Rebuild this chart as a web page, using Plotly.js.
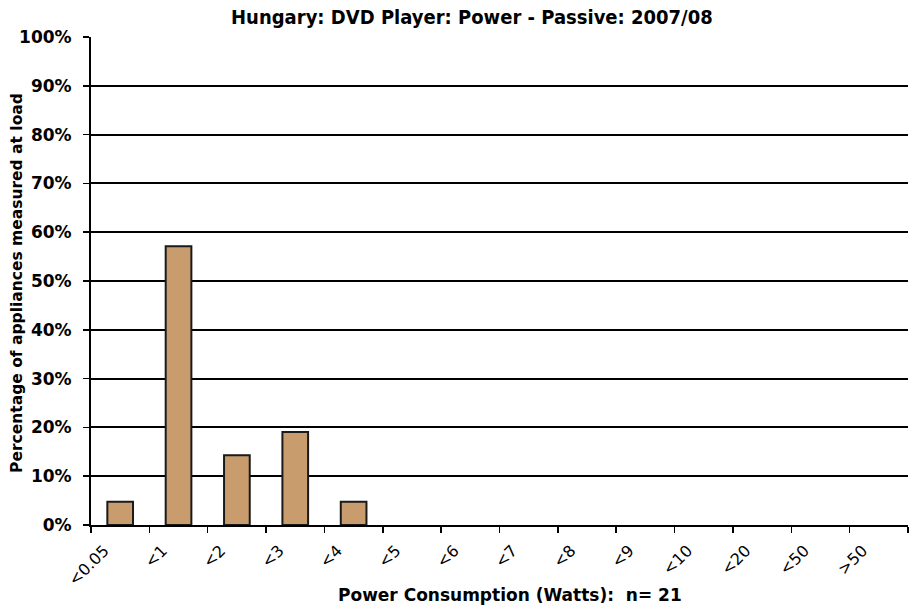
<!DOCTYPE html>
<html>
<head>
<meta charset="utf-8">
<script src="https://cdn.plot.ly/plotly-3.0.1.min.js"></script>
<style>html,body{margin:0;padding:0;background:#fff;}</style>
</head>
<body>
<div id="chart" style="width:911px;height:610px;"></div>
<script>
var categories = ["<0.05", "<1", "<2", "<3", "<4", "<5", "<6", "<7", "<8", "<9", "<10", "<20", "<50", ">50"];
var percentages = [4.76, 57.14, 14.29, 19.05, 4.76, 0, 0, 0, 0, 0, 0, 0, 0, 0];
var yTickVals = [0, 10, 20, 30, 40, 50, 60, 70, 80, 90, 100];
var yTickText = ["0%", "10%", "20%", "30%", "40%", "50%", "60%", "70%", "80%", "90%", "100%"];

var outlineWidths = percentages.map(function (v) { return v > 0 ? 2 : 0; });

var trace = {
  type: "bar",
  x: categories,
  y: percentages,
  marker: {
    color: "#c99c6e",
    line: {color: "#1a1a1a", width: outlineWidths}
  },
  hoverinfo: "x+y"
};

var boldFont = "DejaVu Sans, Verdana, sans-serif";

var layout = {
  width: 911,
  height: 610,
  margin: {l: 91, r: 3, t: 37, b: 85},
  paper_bgcolor: "#ffffff",
  plot_bgcolor: "#ffffff",
  bargap: 0.56,
  showlegend: false,
  title: {
    text: "Hungary: DVD Player: Power - Passive: 2007/08",
    font: {family: "DejaVu Sans Condensed, Arial Narrow, sans-serif", size: 20, color: "#000", weight: "bold"},
    x: 0.518, xanchor: "center", y: 0.972, yanchor: "middle"
  },
  xaxis: {
    type: "category",
    tickangle: -45,
    tickfont: {family: "DejaVu Sans, Arial, sans-serif", size: 16, color: "#000"},
    ticks: "outside",
    tickson: "boundaries",
    ticklen: 6,
    tickwidth: 1.5,
    tickcolor: "#000",
    ticklabelshift: -16,
    ticklabelstandoff: 8,
    showline: true,
    linecolor: "#000",
    linewidth: 2,
    showgrid: false,
    zeroline: false
  },
  yaxis: {
    range: [0, 100],
    tickvals: yTickVals,
    ticktext: yTickText,
    tickfont: {family: boldFont, size: 17, color: "#000", weight: "bold"},
    ticks: "outside",
    ticklen: 6,
    tickwidth: 1.5,
    tickcolor: "#000",
    ticklabelstandoff: 8,
    showline: true,
    linecolor: "#000",
    linewidth: 2,
    showgrid: true,
    gridcolor: "#000",
    gridwidth: 2,
    zeroline: false
  },
  annotations: [{
    text: "Percentage of appliances measured at load",
    xref: "paper", yref: "paper",
    x: -0.0906, y: 0.496,
    xanchor: "center", yanchor: "middle",
    textangle: -90,
    showarrow: false,
    font: {family: boldFont, size: 15.5, color: "#000", weight: "bold"}
  }, {
    text: "Power Consumption (Watts):  n= 21",
    xref: "paper", yref: "paper",
    x: 0.5129, y: -0.1434,
    xanchor: "center", yanchor: "middle",
    showarrow: false,
    font: {family: boldFont, size: 17, color: "#000", weight: "bold"}
  }]
};

Plotly.newPlot("chart", [trace], layout, {displayModeBar: false, staticPlot: true});
</script>
</body>
</html>
